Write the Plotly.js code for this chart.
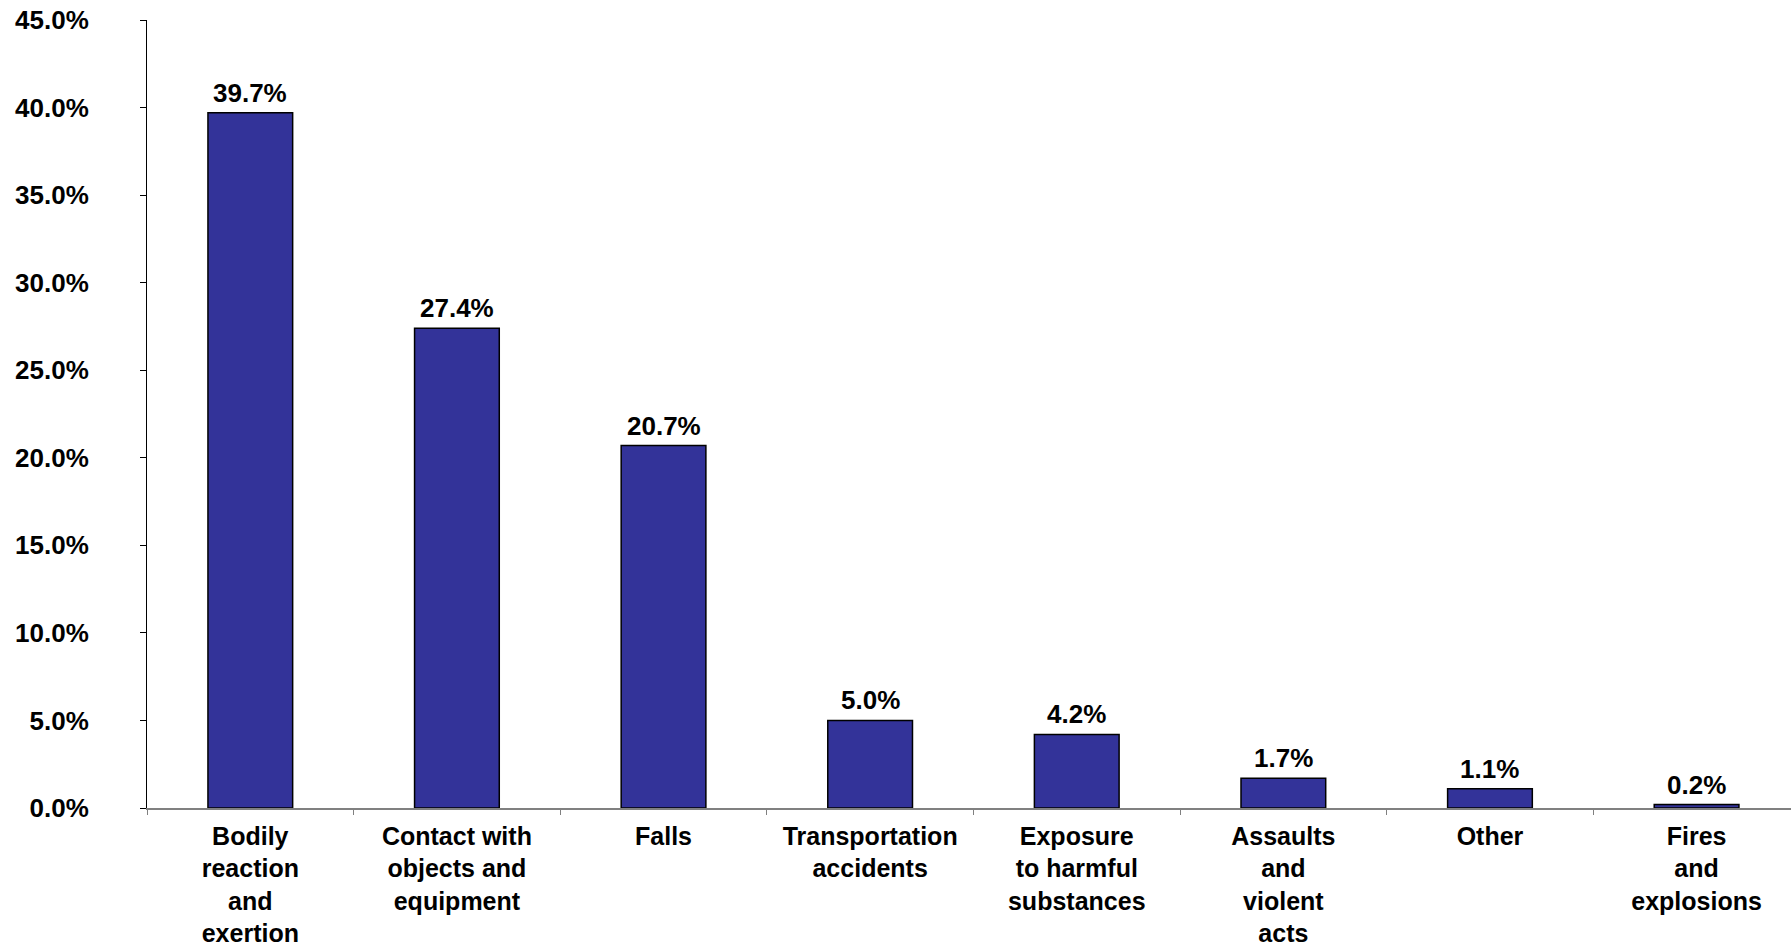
<!DOCTYPE html>
<html>
<head>
<meta charset="utf-8">
<script src="https://cdn.plot.ly/plotly-3.0.1.min.js"></script>
<style>
html,body{margin:0;padding:0;background:#fff;}
#chart{width:1791px;height:949px;}
</style>
</head>
<body>
<div id="chart"></div>
<script>
const categories = [
  "Bodily<br>reaction<br>and<br>exertion",
  "Contact with<br>objects and<br>equipment",
  "Falls",
  "Transportation<br>accidents",
  "Exposure<br>to harmful<br>substances",
  "Assaults<br>and<br>violent<br>acts",
  "Other",
  "Fires<br>and<br>explosions"
];
const values = [39.7, 27.4, 20.7, 5.0, 4.2, 1.7, 1.1, 0.2];
const valueLabels = ["39.7%", "27.4%", "20.7%", "5.0%", "4.2%", "1.7%", "1.1%", "0.2%"];
const yTickVals = [0, 5, 10, 15, 20, 25, 30, 35, 40, 45];
const yTickText = ["0.0%", "5.0%", "10.0%", "15.0%", "20.0%", "25.0%", "30.0%", "35.0%", "40.0%", "45.0%"];

const FONT = "Liberation Sans, Arial, sans-serif";

const trace = {
  type: "bar",
  x: categories,
  y: values,
  width: 0.41,
  marker: {color: "#333399", line: {color: "#000000", width: 1.5}},
  hoverinfo: "skip"
};

const annotations = categories.map((c, i) => ({
  x: c, y: values[i], xref: "x", yref: "y",
  text: "<b>" + valueLabels[i] + "</b>",
  showarrow: false, yanchor: "bottom", yshift: 3,
  font: {family: FONT, size: 26, color: "#000"}
}));

const layout = {
  width: 1791, height: 949,
  margin: {l: 147, r: 0, t: 20, b: 141, pad: 0},
  paper_bgcolor: "#fff", plot_bgcolor: "#fff",
  showlegend: false,
  bargap: 0.59,
  font: {family: FONT, color: "#000"},
  xaxis: {
    range: [-0.5, 7.457],
    showline: true, linecolor: "#808080", linewidth: 1.5,
    ticks: "outside", tickson: "boundaries", ticklen: 5, tickcolor: "#808080", tickwidth: 1,
    showgrid: false, zeroline: false,
    tickfont: {family: FONT, size: 25, color: "#000", weight: "bold"},
    ticklabelstandoff: 5,
    fixedrange: true
  },
  yaxis: {
    range: [0, 45],
    tickmode: "array", tickvals: yTickVals, ticktext: yTickText,
    showline: true, linecolor: "#000", linewidth: 1,
    ticks: "outside", ticklen: 6, tickcolor: "#000", tickwidth: 1,
    showgrid: false, zeroline: false,
    tickfont: {family: FONT, size: 26, color: "#000", weight: "bold"},
    ticklabelstandoff: 46,
    fixedrange: true
  },
  annotations: annotations
};

Plotly.newPlot("chart", [trace], layout, {displayModeBar: false, staticPlot: true});
</script>
</body>
</html>
